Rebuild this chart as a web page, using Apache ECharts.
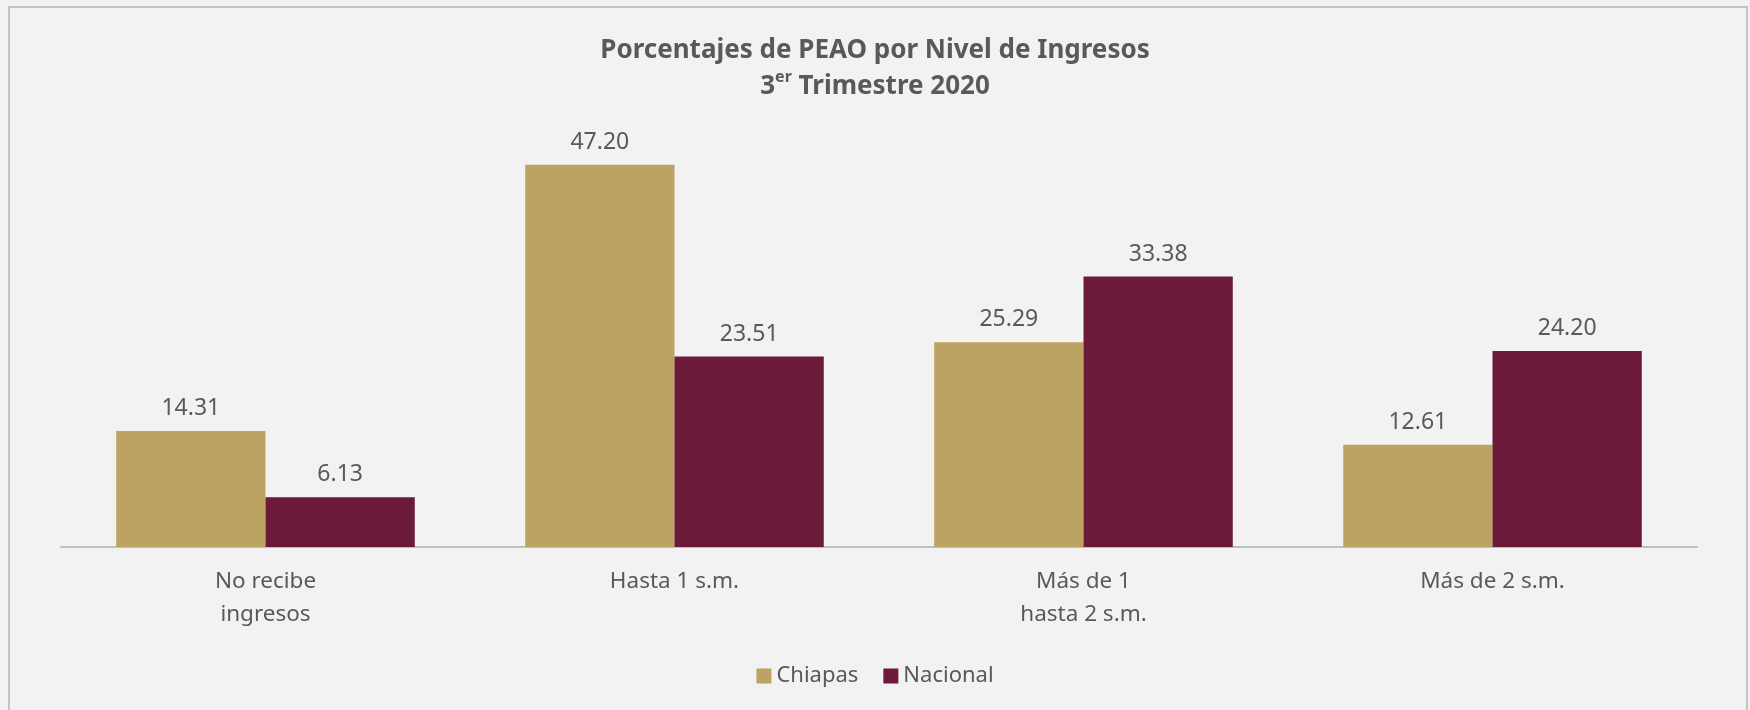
<!DOCTYPE html>
<html>
<head>
<meta charset="utf-8">
<script src="https://cdn.jsdelivr.net/npm/echarts@6/dist/echarts.min.js"></script>
<style>
  html, body { margin: 0; padding: 0; background: #f2f2f2; }
  #chart { width: 1750px; height: 710px; }
</style>
</head>
<body>
<div id="chart"></div>
<script>
var categories = ['No recibe\ningresos', 'Hasta 1 s.m.', 'Más de 1\nhasta 2 s.m.', 'Más de 2 s.m.'];
var chiapas = [14.31, 47.20, 25.29, 12.61];
var nacional = [6.13, 23.51, 33.38, 24.20];
var seriesNames = ['Chiapas', 'Nacional'];

var textColor = '#595959';
var font = 'Noto Sans';

var chart = echarts.init(document.getElementById('chart'));

function barLabel() {
    return {
        show: true,
        position: 'top',
        distance: 11,
        color: textColor,
        fontFamily: font,
        fontSize: 23,
        formatter: function (p) { return p.value.toFixed(2); }
    };
}

var option = {
    backgroundColor: '#f2f2f2',
    animation: false,
    title: {
        left: 'center',
        top: 28,
        text: '{t|Porcentajes de PEAO por Nivel de Ingresos}\n{t|3}{s|er}{t| Trimestre 2020}',
        textStyle: {
            rich: {
                t: { fontFamily: font, fontSize: 26, fontWeight: 'bold', color: textColor, lineHeight: 36 },
                s: { fontFamily: font, fontSize: 16, fontWeight: 'bold', color: textColor, lineHeight: 36, verticalAlign: 'top', padding: [0, 0, 8, 0] }
            }
        }
    },
    legend: {
        bottom: 18,
        left: 'center',
        itemWidth: 15,
        itemHeight: 15,
        itemGap: 25,
        icon: 'rect',
        data: seriesNames,
        textStyle: { color: textColor, fontFamily: font, fontSize: 22 }
    },
    grid: { left: 61, right: 53, top: 142, bottom: 163 },
    xAxis: {
        type: 'category',
        data: categories,
        axisLine: { lineStyle: { color: '#bfbfbf', width: 2 } },
        axisTick: { show: false },
        axisLabel: {
            color: textColor,
            fontFamily: font,
            fontSize: 22.5,
            lineHeight: 33,
            margin: 18
        }
    },
    yAxis: {
        type: 'value',
        min: 0,
        max: 50,
        show: false
    },
    graphic: [{
        type: 'rect',
        shape: { x: 9, y: 7, width: 1738, height: 720 },
        style: { fill: null, stroke: '#c4c4c4', lineWidth: 2 },
        silent: true
    }],
    series: [
        {
            name: seriesNames[0],
            type: 'bar',
            data: chiapas,
            barGap: '0%',
            barCategoryGap: '27%',
            itemStyle: { color: '#bca263' },
            label: barLabel()
        },
        {
            name: seriesNames[1],
            type: 'bar',
            data: nacional,
            itemStyle: { color: '#6b1a3a' },
            label: barLabel()
        }
    ]
};

chart.setOption(option);
</script>
</body>
</html>
